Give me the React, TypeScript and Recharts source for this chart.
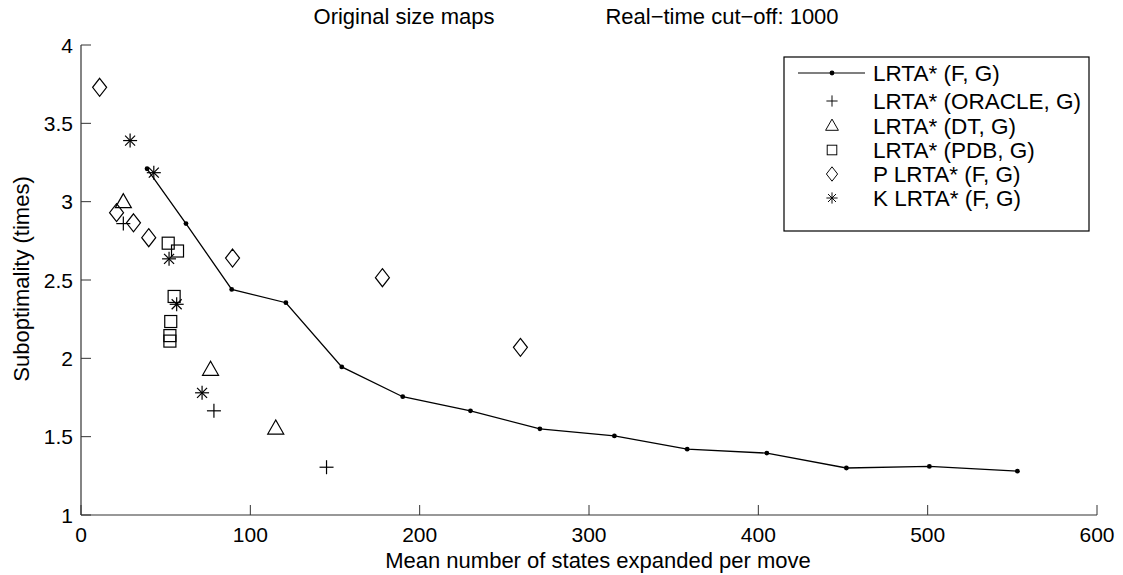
import React from "react";
import { ComposedChart, Line, Scatter, XAxis, YAxis } from "recharts";

// mean states expanded per move vs suboptimality
const lrtaFG = [
  [39, 3.21], [62, 2.86], [89, 2.44], [121, 2.355], [154, 1.945], [190, 1.755],
  [230, 1.665], [271, 1.55], [315, 1.505], [358, 1.42], [405, 1.395],
  [452, 1.3], [501, 1.31], [553, 1.28],
];
const lrtaOracle = [[25, 2.86], [78.5, 1.665], [145, 1.305]];
const lrtaDT = [[25, 3.0], [76.5, 1.93], [115, 1.555]];
const lrtaPDB = [[51.5, 2.735], [57, 2.685], [55, 2.395], [53, 2.235], [52.5, 2.145], [52.5, 2.11]];
const pLrta = [[11, 3.73], [21, 2.93], [31, 2.865], [40, 2.77], [89.5, 2.64], [178, 2.515], [259.5, 2.07]];
const kLrta = [[29, 3.39], [43, 3.185], [52, 2.635], [56.5, 2.345], [71.5, 1.78]];

const xTicks = [0, 100, 200, 300, 400, 500, 600];
const yTicks = [1, 1.5, 2, 2.5, 3, 3.5, 4];

const legendNames = [
  "LRTA* (F, G)",
  "LRTA* (ORACLE, G)",
  "LRTA* (DT, G)",
  "LRTA* (PDB, G)",
  "P LRTA* (F, G)",
  "K LRTA* (F, G)",
];

const toPts = (a: number[][]) => a.map(([x, y]) => ({ x, y }));

const FONT = "'Liberation Sans', Arial, sans-serif";
const INK = "#000";

function Plus({ cx, cy }: any) {
  return (
    <g stroke={INK} strokeWidth={1.2}>
      <line x1={cx - 7} y1={cy} x2={cx + 7} y2={cy} />
      <line x1={cx} y1={cy - 7} x2={cx} y2={cy + 7} />
    </g>
  );
}
function Tri({ cx, cy }: any) {
  return <polygon points={`${cx},${cy - 8} ${cx - 8},${cy + 6} ${cx + 8},${cy + 6}`} fill="none" stroke={INK} strokeWidth={1.2} />;
}
function Sq({ cx, cy }: any) {
  return <rect x={cx - 6} y={cy - 6} width={12} height={12} fill="none" stroke={INK} strokeWidth={1.2} />;
}
function Dia({ cx, cy }: any) {
  return <polygon points={`${cx},${cy - 9} ${cx + 7},${cy} ${cx},${cy + 9} ${cx - 7},${cy}`} fill="none" stroke={INK} strokeWidth={1.2} />;
}
function Star({ cx, cy }: any) {
  const d = 5;
  return (
    <g stroke={INK} strokeWidth={1.2}>
      <line x1={cx - 7} y1={cy} x2={cx + 7} y2={cy} />
      <line x1={cx} y1={cy - 7} x2={cx} y2={cy + 7} />
      <line x1={cx - d} y1={cy - d} x2={cx + d} y2={cy + d} />
      <line x1={cx - d} y1={cy + d} x2={cx + d} y2={cy - d} />
    </g>
  );
}
function Dot({ cx, cy }: any) {
  return <circle cx={cx} cy={cy} r={2.4} fill={INK} stroke="none" />;
}

const markers = [Dot, Plus, Tri, Sq, Dia, Star];

function XTick({ x, y, payload }: any) {
  return (
    <g>
      <line x1={x} y1={y} x2={x} y2={y - 10} stroke="#333" />
      <text x={x} y={y + 27} textAnchor="middle" fontSize={21} fontFamily={FONT} fill={INK}>
        {payload.value}
      </text>
    </g>
  );
}
function YTick({ x, y, payload }: any) {
  return (
    <g>
      <line x1={x} y1={y} x2={x + 10} y2={y} stroke="#333" />
      <text x={x - 8} y={y + 7.5} textAnchor="end" fontSize={21} fontFamily={FONT} fill={INK}>
        {payload.value}
      </text>
    </g>
  );
}

const legendRows = [73, 101, 125.5, 150, 174, 198];

function LegendBox() {
  const left = 784, top = 57, w = 305, h = 174;
  return (
    <g fontFamily={FONT} fontSize={22.5}>
      <rect x={left} y={top} width={w} height={h} fill="#fff" stroke={INK} strokeWidth={1.2} />
      {legendNames.map((name, i) => {
        const cy = legendRows[i];
        const M = markers[i];
        return (
          <g key={name}>
            {i === 0 && <line x1={798} y1={cy} x2={865} y2={cy} stroke={INK} strokeWidth={1.2} />}
            {i === 0 ? <M cx={832} cy={cy} /> : (
              <g transform={`translate(${832} ${cy}) scale(0.8) translate(${-832} ${-cy})`}>
                <M cx={832} cy={cy} />
              </g>
            )}
            <text x={873} y={cy + 8} fill={INK}>{name}</text>
          </g>
        );
      })}
    </g>
  );
}

export default function App() {
  return (
    <div style={{ position: "absolute", left: 0, top: 0, width: 1123, height: 575, background: "#fff" }}>
      <ComposedChart width={1123} height={575} margin={{ top: 45, right: 26, bottom: 59, left: 80 }}>
        <XAxis
          type="number"
          dataKey="x"
          domain={[0, 600]}
          ticks={xTicks}
          height={1}
          tickSize={0}
          tickMargin={0}
          tickLine={false}
          tick={<XTick />}
          axisLine={{ stroke: "#333", strokeWidth: 1.2 }}
          allowDataOverflow
        />
        <YAxis
          type="number"
          dataKey="y"
          domain={[1, 4]}
          ticks={yTicks}
          width={1}
          tickSize={0}
          tickMargin={0}
          tickLine={false}
          tick={<YTick />}
          axisLine={{ stroke: "#333", strokeWidth: 1.2 }}
          allowDataOverflow
        />
        <Line data={toPts(lrtaFG)} dataKey="y" stroke={INK} strokeWidth={1.3} dot={<Dot />} activeDot={false} isAnimationActive={false} />
        <Scatter data={toPts(lrtaOracle)} dataKey="y" shape={<Plus />} isAnimationActive={false} />
        <Scatter data={toPts(lrtaDT)} dataKey="y" shape={<Tri />} isAnimationActive={false} />
        <Scatter data={toPts(lrtaPDB)} dataKey="y" shape={<Sq />} isAnimationActive={false} />
        <Scatter data={toPts(pLrta)} dataKey="y" shape={<Dia />} isAnimationActive={false} />
        <Scatter data={toPts(kLrta)} dataKey="y" shape={<Star />} isAnimationActive={false} />
        <text x={404} y={24} textAnchor="middle" fontSize={22} fontFamily={FONT} fill={INK}>Original size maps</text>
        <text x={722} y={24} textAnchor="middle" fontSize={22} fontFamily={FONT} fill={INK}>Real−time cut−off: 1000</text>
        <text x={598} y={568} textAnchor="middle" fontSize={22} fontFamily={FONT} fill={INK}>Mean number of states expanded per move</text>
        <text x={29} y={279} textAnchor="middle" fontSize={22} fontFamily={FONT} fill={INK} transform="rotate(-90 29 279)">Suboptimality (times)</text>
        <LegendBox />
      </ComposedChart>
    </div>
  );
}
